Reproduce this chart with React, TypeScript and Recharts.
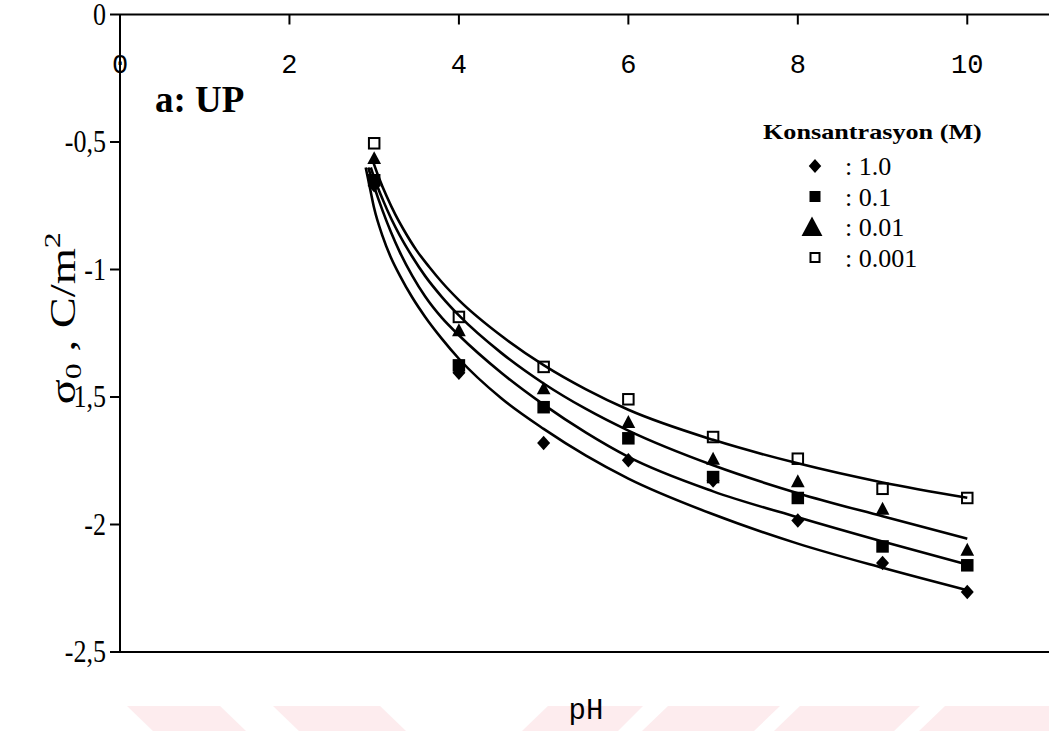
import React from "react";
import { ComposedChart, Line, Scatter, XAxis, YAxis, ReferenceLine, Legend } from "recharts";

// measured points
const phPoints = [3, 4, 5, 6, 7, 8, 9, 10];
const sigmaC1 = [-0.67, -1.405, -1.68, -1.748, -1.827, -1.984, -2.151, -2.265];
const sigmaC01 = [-0.65, -1.376, -1.54, -1.662, -1.814, -1.896, -2.086, -2.16];
const sigmaC001 = [-0.563, -1.238, -1.466, -1.598, -1.742, -1.83, -1.938, -2.099];
const sigmaC0001 = [-0.505, -1.186, -1.382, -1.509, -1.657, -1.742, -1.86, -1.896];

// fitted curves
const fitPhC1 = [2.9, 2.95, 3.0, 3.1, 3.2, 3.3, 3.45, 3.6, 3.8, 4.0, 4.5, 5.0, 5.5, 6.0, 7.0, 8.0, 9.0, 10.0];
const fitSigmaC1 = [-0.6, -0.68, -0.76, -0.87, -0.955, -1.022, -1.11, -1.185, -1.272, -1.35, -1.505, -1.625, -1.73, -1.82, -1.96, -2.075, -2.17, -2.258];
const fitPhC01 = [2.93, 3.0, 3.1, 3.2, 3.3, 3.45, 3.6, 3.8, 4.0, 4.5, 5.0, 5.5, 6.0, 7.0, 8.0, 9.0, 10.0];
const fitSigmaC01 = [-0.6, -0.675, -0.77, -0.855, -0.93, -1.025, -1.105, -1.19, -1.258, -1.405, -1.53, -1.64, -1.735, -1.87, -1.972, -2.067, -2.157];
const fitPhC001 = [2.96, 3.0, 3.1, 3.2, 3.3, 3.45, 3.6, 3.8, 4.0, 4.5, 5.0, 5.5, 6.0, 7.0, 8.0, 9.0, 10.0];
const fitSigmaC001 = [-0.6, -0.64, -0.725, -0.8, -0.865, -0.95, -1.025, -1.108, -1.18, -1.327, -1.447, -1.547, -1.632, -1.768, -1.877, -1.968, -2.056];
const fitPhC0001 = [2.99, 3.05, 3.15, 3.25, 3.35, 3.5, 3.65, 3.8, 4.0, 4.5, 5.0, 5.5, 6.0, 7.0, 8.0, 9.0, 10.0];
const fitSigmaC0001 = [-0.58, -0.635, -0.715, -0.785, -0.845, -0.925, -0.99, -1.05, -1.12, -1.26, -1.375, -1.47, -1.55, -1.668, -1.76, -1.835, -1.895];

const seriesNames = ["1.0", "0.1", "0.01", "0.001"];
const xTicks = [0, 2, 4, 6, 8, 10];
const yTicks = [0, -0.5, -1, -1.5, -2, -2.5];
const panelTitle = "a: UP";
const legendTitle = "Konsantrasyon (M)";
const xTitle = "pH";

const toPts = (xs: number[], ys: number[]) => xs.map((x, i) => ({ x, y: ys[i] }));

const pts = [
  toPts(phPoints, sigmaC1),
  toPts(phPoints, sigmaC01),
  toPts(phPoints, sigmaC001),
  toPts(phPoints, sigmaC0001),
];
const fits = [
  toPts(fitPhC1, fitSigmaC1),
  toPts(fitPhC01, fitSigmaC01),
  toPts(fitPhC001, fitSigmaC001),
  toPts(fitPhC0001, fitSigmaC0001),
];

const SERIF = "'Liberation Serif', 'Times New Roman', serif";
const MONO = "'Liberation Mono', 'Courier New', monospace";

const markerKinds = ["diamond", "square", "triangle", "open"];

function drawMarker(kind: string, cx: number, cy: number, s: number) {
  if (kind === "diamond") {
    return <polygon points={`${cx},${cy - s * 0.58} ${cx + s * 0.52},${cy} ${cx},${cy + s * 0.58} ${cx - s * 0.52},${cy}`} fill="#000" />;
  }
  if (kind === "square") {
    return <rect x={cx - s / 2} y={cy - s / 2} width={s} height={s} fill="#000" />;
  }
  if (kind === "triangle") {
    return <polygon points={`${cx},${cy - s * 0.55} ${cx + s * 0.55},${cy + s * 0.48} ${cx - s * 0.55},${cy + s * 0.48}`} fill="#000" />;
  }
  return <rect x={cx - s / 2 + 1} y={cy - s / 2 + 1} width={s - 2} height={s - 2} fill="none" stroke="#000" strokeWidth={2} />;
}

const makeShape = (kind: string) => (props: any) => {
  const { cx, cy } = props;
  if (cx == null || cy == null) return <g />;
  return <g>{drawMarker(kind, cx, cy, 12.5)}</g>;
};

const XTick = (props: any) => {
  const { x, y, payload } = props;
  return (
    <g>
      <line x1={x} x2={x} y1={y} y2={y + 10} stroke="#000" strokeWidth={2} />
      <text x={x} y={y + 58} textAnchor="middle" fontFamily={MONO} fontSize={27} fill="#000">
        {payload.value}
      </text>
    </g>
  );
};

const YTick = (props: any) => {
  const { x, y, payload } = props;
  const label = String(payload.value).replace(".", ",");
  return (
    <g>
      <line x1={x - 10} x2={x} y1={y} y2={y} stroke="#000" strokeWidth={2} />
      <text
        transform={`translate(${x - 14}, ${y + 10}) scale(1, 1.2)`}
        x={0}
        y={0}
        textAnchor="end"
        fontFamily={SERIF}
        fontSize={26}
        fill="#000"
      >
        {label}
      </text>
    </g>
  );
};

const YLabel = (props: any) => {
  const vb = props.viewBox || { x: 0, y: 0, width: 0, height: 0 };
  const cy = vb.y + vb.height / 2 - 15;
  const bx = 75;
  return (
    <text
      transform={`translate(${bx}, ${cy}) rotate(-90) scale(1.33, 1)`}
      x={0}
      y={0}
      textAnchor="middle"
      fontFamily={SERIF}
      fontSize={35}
      fill="#000"
    >
      <tspan>σ</tspan>
      <tspan fontSize={24} dy={6}>0</tspan>
      <tspan dy={-6}> , C/m</tspan>
      <tspan fontSize={24} dy={-15}>2</tspan>
    </text>
  );
};

const LegendContent = (props: any) => {
  const payload = (props.payload || [])
    .filter((p: any) => seriesNames.includes(String(p.value)))
    .slice()
    .sort((a: any, b: any) => seriesNames.indexOf(String(a.value)) - seriesNames.indexOf(String(b.value)));
  const legendSizes = [12, 11, 19, 11];
  return (
    <svg width={280} height={160} style={{ overflow: "visible", display: "block" }}>
      <text transform="translate(13, 24) scale(1.19, 1)" x={0} y={0} fontFamily={SERIF} fontWeight="bold" fontSize={22} fill="#000">
        {legendTitle}
      </text>
      {payload.map((p: any, i: number) => {
        const idx = seriesNames.indexOf(String(p.value));
        const cy = 51 + i * 30.5;
        return (
          <g key={i}>
            {drawMarker(markerKinds[idx], idx === 2 ? 62 : 65, cy, legendSizes[idx])}
            <text x={95} y={cy + 9} fontFamily={SERIF} fontSize={26} fill="#000">
              {": " + p.value}
            </text>
          </g>
        );
      })}
    </svg>
  );
};

const watermark = [
  "127,706 220,706 246,731 153,731",
  "273,706 380,706 406,731 299,731",
  "548,706 643,706 618,731 522,731",
  "668,706 780,706 754,731 642,731",
  "800,706 920,706 894,731 774,731",
  "945,706 1049,706 1049,731 919,731",
];

export default function App() {
  return (
    <div style={{ position: "absolute", left: 0, top: 0, width: 1049, height: 731, overflow: "hidden", background: "#fff" }}>
      <ComposedChart width={1052} height={731} margin={{ top: 0, right: 0, left: 0, bottom: 79 }}>
        {watermark.map((p, i) => (
          <polygon key={"wm" + i} points={p} fill="#fdecee" />
        ))}
        <XAxis
          dataKey="x"
          type="number"
          orientation="top"
          domain={[0, 11]}
          ticks={xTicks}
          allowDataOverflow
          height={14.5}
          tickSize={0}
          tickMargin={0}
          tickLine={false}
          axisLine={{ stroke: "#000", strokeWidth: 2 }}
          tick={<XTick />}
          interval={0}
        />
        <YAxis
          dataKey="y"
          type="number"
          domain={[-2.5, 0]}
          ticks={yTicks}
          allowDataOverflow
          width={120}
          tickSize={0}
          tickMargin={0}
          tickLine={false}
          axisLine={{ stroke: "#000", strokeWidth: 2 }}
          tick={<YTick />}
          interval={0}
          label={<YLabel />}
        />
        <ReferenceLine
          y={-2.5}
          stroke="#000"
          strokeWidth={2}
          ifOverflow="visible"
          label={{ value: xTitle, position: "bottom", offset: 46, fontFamily: MONO, fontSize: 29, fill: "#000" }}
        />
        {fits.map((d, i) => (
          <Line
            key={"fit" + i}
            data={d}
            dataKey="y"
            type="monotone"
            dot={false}
            activeDot={false}
            stroke="#000"
            strokeWidth={2.6}
            isAnimationActive={false}
            legendType="none"
            name={"fit " + seriesNames[i]}
          />
        ))}
        {pts.map((d, i) => (
          <Scatter
            key={"pts" + i}
            data={d}
            dataKey="y"
            name={seriesNames[i]}
            shape={makeShape(markerKinds[i])}
            isAnimationActive={false}
          />
        ))}
        <Legend
          layout="horizontal"
          verticalAlign="middle"
          align="center"
          content={<LegendContent />}
          wrapperStyle={{ position: "absolute", left: 750, top: 115, width: 280, height: 160 }}
        />
        <text x={155} y={112} fontFamily={SERIF} fontWeight="bold" fontSize={37} fill="#000">
          {panelTitle}
        </text>
      </ComposedChart>
    </div>
  );
}
